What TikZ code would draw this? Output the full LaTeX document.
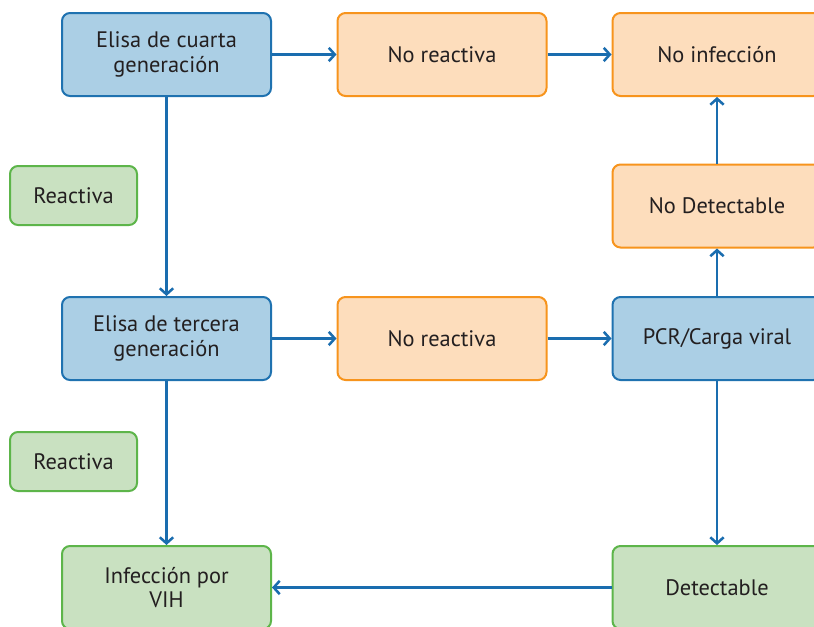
\documentclass[tikz,border=0pt]{standalone}
\usepackage{fontspec}
\setmainfont{PT Sans}
\usetikzlibrary{arrows.meta}
\definecolor{bluefill}{HTML}{ABCFE5}
\definecolor{blueline}{HTML}{1F72B0}
\definecolor{orfill}{HTML}{FDDDBC}
\definecolor{orline}{HTML}{F7941D}
\definecolor{grfill}{HTML}{C9E1C1}
\definecolor{grline}{HTML}{5DB54A}
\definecolor{arrcol}{HTML}{1A6DAF}
\definecolor{txt}{HTML}{231F20}
\tikzset{
  box/.style={rounded corners=6pt, line width=1.5pt, minimum width=209*0.75pt, minimum height=83*0.75pt,
    align=center, text=txt, font=\fontsize{16.8}{18.5}\selectfont, inner sep=2pt},
  bluebox/.style={box, draw=blueline, fill=bluefill},
  orbox/.style={box, draw=orline, fill=orfill},
  grbox/.style={box, draw=grline, fill=grfill},
  smallbox/.style={grbox, minimum width=127*0.75pt, minimum height=59*0.75pt},
  arr/.style={draw=arrcol, line width=1.7pt, -{Straight Barb[length=4.5pt,width=10pt,line width=1.9pt]}}
}
\begin{document}
\begin{tikzpicture}[x=0.75pt,y=-0.75pt]
\useasboundingbox (0,0) rectangle (814,626);
\clip (0,0) rectangle (814,626);
\fill[white] (0,0) rectangle (814,626);
\node[bluebox] (A) at (166.5,54.5) {Elisa de cuarta\\generación};
\node[orbox] (nr1) at (442,54.5) {No reactiva};
\node[orbox] (noinf) at (717,54.5) {No infección};
\node[smallbox] (r1) at (73.5,195.5) {Reactiva};
\node[orbox] (nodet) at (717,206) {No Detectable};
\node[bluebox] (D) at (166.5,338.5) {Elisa de tercera\\generación};
\node[orbox] (nr2) at (442,338.5) {No reactiva};
\node[bluebox] (pcr) at (717,338.5) {PCR/Carga viral};
\node[smallbox] (r2) at (73.5,461.5) {Reactiva};
\node[grbox] (vih) at (166.5,587.5) {Infección por\\VIH};
\node[grbox] (det) at (717,587.5) {Detectable};
\draw[arr] (A) -- (nr1);
\draw[arr] (nr1) -- (noinf);
\draw[arr] (A) -- (D);
\draw[arr] (D) -- (nr2);
\draw[arr] (nr2) -- (pcr);
\draw[arr] (pcr) -- (nodet);
\draw[arr] (nodet) -- (noinf);
\draw[arr] (pcr) -- (det);
\draw[arr] (D) -- (vih);
\draw[arr] (det) -- (vih);
\end{tikzpicture}
\end{document}
